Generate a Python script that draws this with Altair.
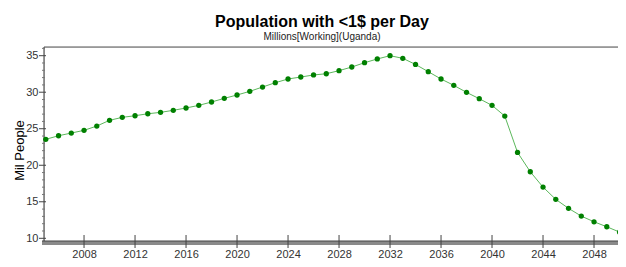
import altair as alt
import pandas as pd

years = list(range(2005, 2051))
values = [23.55, 24.04, 24.41, 24.78, 25.37, 26.15, 26.56, 26.78, 27.05, 27.24,
          27.52, 27.84, 28.20, 28.66, 29.16, 29.62, 30.12, 30.71, 31.30, 31.81,
          32.08, 32.36, 32.53, 32.95, 33.45, 34.04, 34.55, 35.00, 34.64, 33.80,
          32.81, 31.81, 30.94, 29.98, 29.11, 28.20, 26.74, 21.76, 19.11, 17.01,
          15.33, 14.10, 13.04, 12.26, 11.58, 10.85]
x_ticks = [2008, 2012, 2016, 2020, 2024, 2028, 2032, 2036, 2040, 2044, 2048]
y_major = [10, 15, 20, 25, 30, 35]
y_minor = [v for v in range(10, 37) if v % 5 != 0]

df = pd.DataFrame({"Year": years, "Value": values})
W, H = 574, 194
xs = alt.Scale(domain=[2004.86, 2049.88], nice=False, zero=False)
ys = alt.Scale(domain=[9.63, 36.19], nice=False, zero=False)

x_axis = alt.Axis(values=x_ticks, format="d", ticks=False, domain=False, grid=False,
                  labelFont="Liberation Sans", labelFontSize=11, labelColor="#333",
                  labelPadding=7, labelOverlap=False, labelFlush=False,
                  title="Year", titleFont="Liberation Sans",
                  titleFontSize=12, titleFontWeight="normal", titleColor="#000",
                  titleY=213, titleBaseline="top")
y_axis = alt.Axis(values=y_major, ticks=False, domain=False, grid=False,
                  labelFont="Liberation Sans", labelFontSize=11, labelColor="#333",
                  labelPadding=6, labelOverlap=False, labelFlush=False,
                  title="Mil People", titleFont="Liberation Sans",
                  titleFontSize=13, titleFontWeight="normal", titleColor="#000",
                  titleX=-25, titleY=103, titleAngle=-90, titleAlign="center",
                  titleBaseline="middle")

base = alt.Chart(df)
line = base.mark_line(color="#5cb85c", strokeWidth=1).encode(
    x=alt.X("Year:Q", scale=xs, axis=x_axis),
    y=alt.Y("Value:Q", scale=ys, axis=y_axis),
)
pts = base.mark_circle(color="#008000", size=28, opacity=1).encode(
    x=alt.X("Year:Q", scale=xs, axis=x_axis),
    y=alt.Y("Value:Q", scale=ys, axis=y_axis))

one = pd.DataFrame({"a": [0]})
top_rule = alt.Chart(one).mark_rule(color="#555", strokeWidth=1).encode(
    x=alt.value(0), x2=alt.value(W), y=alt.value(0))
left_rule = alt.Chart(one).mark_rule(color="#333", strokeWidth=1).encode(
    x=alt.value(0), y=alt.value(0), y2=alt.value(H))
band = alt.Chart(one).mark_rect(color="#8a8a8a").encode(
    x=alt.value(-2), x2=alt.value(W), y=alt.value(H), y2=alt.value(H + 4))
bottom_rule = alt.Chart(one).mark_rule(color="#444", strokeWidth=1).encode(
    x=alt.value(-2), x2=alt.value(W), y=alt.value(H))

xt = alt.Chart(pd.DataFrame({"Year": x_ticks})).mark_rule(color="#444", strokeWidth=1).encode(
    x=alt.X("Year:Q", scale=xs, axis=x_axis), y=alt.value(H - 6), y2=alt.value(H + 7))
ymaj = alt.Chart(pd.DataFrame({"Value": y_major})).mark_rule(color="#444", strokeWidth=1).encode(
    y=alt.Y("Value:Q", scale=ys, axis=y_axis), x=alt.value(-5), x2=alt.value(2))
ymin = alt.Chart(pd.DataFrame({"Value": y_minor})).mark_rule(color="#777", strokeWidth=1).encode(
    y=alt.Y("Value:Q", scale=ys, axis=y_axis), x=alt.value(-2), x2=alt.value(1))

chart = alt.layer(band, bottom_rule, top_rule, left_rule, xt, ymaj, ymin, line, pts).properties(
    width=W, height=H,
    title=alt.TitleParams(
        "Population with <1$ per Day", subtitle="Millions[Working](Uganda)",
        font="Liberation Sans", fontSize=16, fontWeight="bold", color="#000",
        subtitleFont="Liberation Sans", subtitleFontSize=10, subtitleColor="#222",
        subtitlePadding=2, anchor="middle", frame="group", dx=-9, offset=5),
    padding={"left": 36, "top": 39, "right": 0, "bottom": 26},
    autosize=alt.AutoSizeParams(type="none"),
).configure_view(stroke=None).configure(background="white")

chart.save("out.html", embed_options={"renderer": "svg", "actions": False})
